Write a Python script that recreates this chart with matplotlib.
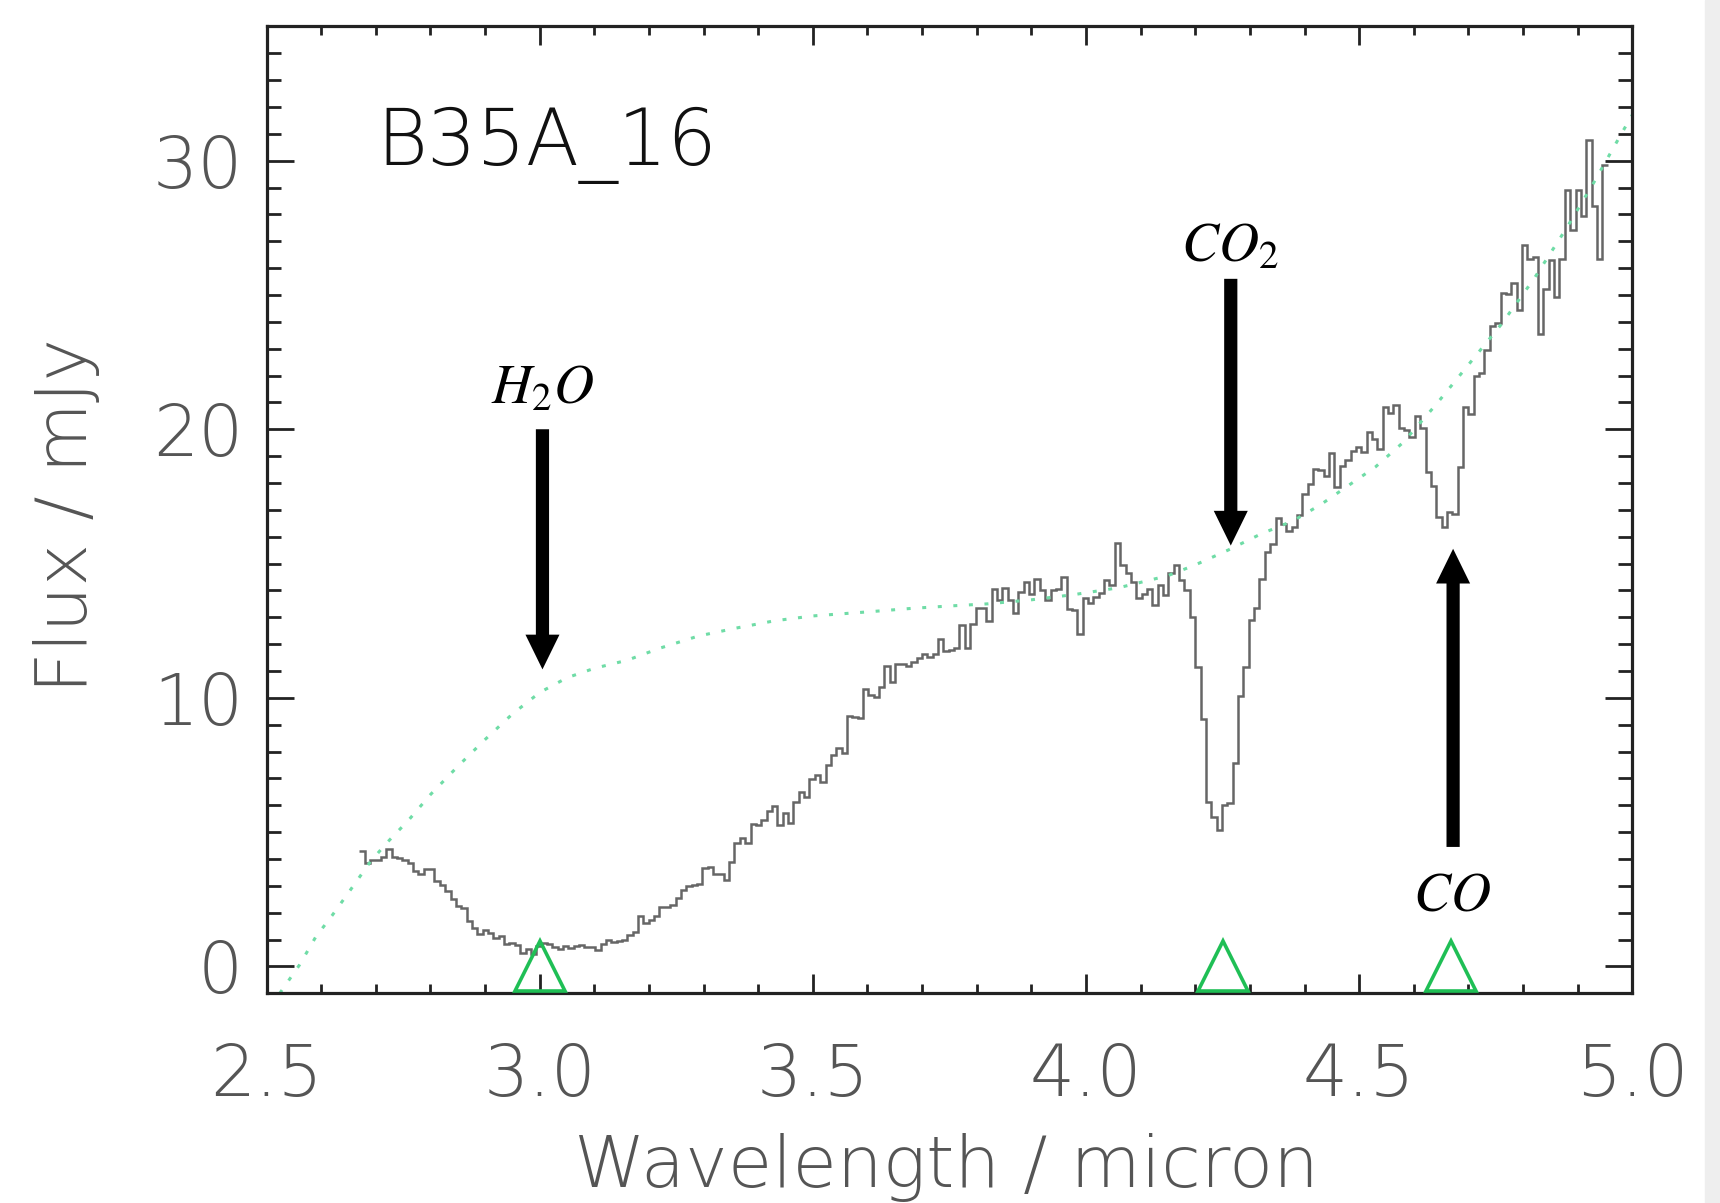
import numpy as np
import matplotlib
matplotlib.use("Agg")
import matplotlib.pyplot as plt
from matplotlib.ticker import MultipleLocator, FormatStrFormatter
from matplotlib.patches import Rectangle

plt.rcParams['mathtext.fontset'] = 'stix'

# spectrum: flux per wavelength bin (mJy), bins spread evenly over wave_lo..wave_hi
wave_lo, wave_hi = 2.67, 4.955
flux = [
    4.31, 3.84, 3.96, 3.98, 4.08, 4.37, 4.08, 4.05, 3.95, 3.85,
    3.55, 3.43, 3.64, 3.64, 3.20, 3.05, 2.80, 2.50, 2.24, 2.17,
    1.70, 1.43, 1.20, 1.37, 1.25, 1.05, 1.12, 0.85, 0.88, 0.79,
    0.50, 0.66, 0.47, 0.75, 0.88, 0.85, 0.72, 0.65, 0.76, 0.70,
    0.78, 0.79, 0.74, 0.72, 0.60, 0.82, 1.00, 0.92, 0.95, 1.00,
    1.16, 1.30,
    1.86, 1.61, 1.73, 1.88, 2.20, 2.20, 2.29, 2.54, 2.85, 3.00,
    3.03, 3.07, 3.65, 3.71, 3.46, 3.46, 3.21, 3.90, 4.60, 4.80,
    4.60, 5.30, 5.27, 5.45, 5.80, 5.97, 5.27, 5.72, 5.33, 6.14,
    6.51, 6.32, 6.97, 7.12, 6.87, 7.49, 7.86, 8.15, 7.95, 9.31,
    9.29, 9.25, 10.34, 10.10, 10.03, 10.40, 11.20, 10.60,
    11.27, 11.27, 11.20, 11.33, 11.50, 11.62, 11.53, 11.62, 12.20, 11.75,
    11.80, 11.84, 12.70, 11.84, 12.74, 13.36, 13.36, 12.87, 14.07, 13.66,
    14.10, 13.66, 13.16, 13.95, 14.32, 13.86, 14.44, 14.00, 13.63, 14.03,
    14.07, 14.50, 13.32, 13.26, 12.37, 13.70, 13.54, 13.76, 13.89, 14.38,
    14.20, 15.75, 14.94, 14.63, 14.32, 13.70, 13.86, 14.07, 13.45, 14.20,
    13.82, 14.63, 14.94, 14.38, 14.00, 13.00,
    11.16, 9.23, 6.13, 5.57, 5.07, 6.00, 6.07, 7.56, 10.07, 11.16,
    12.89, 13.36, 14.44, 15.43, 15.74, 16.71, 16.46, 16.21, 16.36, 16.80,
    17.60, 17.95, 18.53, 18.47, 18.25, 19.12, 17.85, 18.62, 18.84, 19.19,
    19.34, 19.16, 19.90, 19.65, 19.28, 20.81, 20.61, 20.90, 20.03, 19.99,
    19.72, 20.49, 20.03, 18.41, 17.87, 16.73, 16.36,
    16.93, 16.84, 18.60, 20.83, 20.58, 21.97, 22.10, 22.94, 23.83, 23.96,
    25.07, 25.05, 25.44, 24.45, 26.85, 26.35, 26.41, 23.55, 25.23, 26.31,
    24.92, 26.35, 28.89, 27.40, 28.92, 27.93, 30.78, 28.30, 26.35, 29.83,
]

# continuum (green dotted)
cont_wave = [2.524, 2.56, 2.59, 2.62, 2.65, 2.69, 2.72, 2.76, 2.80, 2.85,
             2.90, 2.95, 3.00, 3.05, 3.10, 3.16, 3.22, 3.29, 3.36, 3.43,
             3.50, 3.60, 3.68, 3.75, 3.82, 3.90, 3.98, 4.06, 4.12, 4.15,
             4.20, 4.26, 4.32, 4.38, 4.43, 4.48, 4.53, 4.58, 4.64, 4.70,
             4.76, 4.82, 4.88, 4.93, 4.98, 5.00]
cont_flux = [-1.0, 0.05, 1.1, 1.9, 2.75, 3.9, 4.6, 5.45, 6.4, 7.45,
             8.45, 9.4, 10.2, 10.75, 11.1, 11.4, 11.85, 12.3, 12.6, 12.87,
             13.05, 13.2, 13.33, 13.42, 13.5, 13.65, 13.85, 14.1, 14.4, 14.55,
             14.95, 15.5, 16.1, 16.6, 17.2, 17.9, 18.6, 19.5, 20.9, 22.4,
             23.9, 25.6, 27.5, 29.2, 31.0, 31.7]

# ice features: triangle markers and arrows
feat_wave = [3.0, 4.251, 4.669]
feat_labels = ['$H_2O$', '$CO_2$', '$CO$']
arrow_x = [3.005, 4.265, 4.672]
arrow_from = [20.0, 25.6, 4.45]
arrow_to = [11.06, 15.67, 15.55]
label_x = [3.006, 4.263, 4.669]
label_y = [20.95, 26.25, 2.1]

src_name = 'B35A_16'

fig = plt.figure(figsize=(17.2, 12.03), dpi=100)
ax = fig.add_axes([0.155, 0.1743, 0.794, 0.8038])

tick_font = dict(family='DejaVu Sans', weight='light')
gray = '#555555'

edges = np.linspace(wave_lo, wave_hi, len(flux) + 1)
ax.stairs(flux, edges, baseline=None, color='#666666', lw=1.8)

ax.plot(cont_wave, cont_flux, color='#6fdca6', lw=2.2, dashes=(1.3, 3.8))

ax.plot(feat_wave, [0] * len(feat_wave), ls='none', marker='^', ms=36,
        mfc='none', mec='#1fbf55', mew=2.6, clip_on=False, zorder=4)

for x, y0, y1 in zip(arrow_x, arrow_from, arrow_to):
    ax.annotate('', xy=(x, y1), xytext=(x, y0),
                arrowprops=dict(arrowstyle='simple,head_length=1.0,head_width=0.98,tail_width=0.38',
                                fc='black', ec='black', lw=0, shrinkA=0, shrinkB=0,
                                mutation_scale=25))
for x, y, s in zip(label_x, label_y, feat_labels):
    ax.text(x, y, s, ha='center', va='baseline', fontsize=40, color='black')

ax.text(2.701, 29.84, src_name, fontsize=56, color='#111111', ha='left',
        va='baseline', **tick_font)

ax.set_xlim(2.5, 5.0)
ax.set_ylim(-1, 35)
ax.xaxis.set_major_locator(MultipleLocator(0.5))
ax.xaxis.set_minor_locator(MultipleLocator(0.1))
ax.yaxis.set_major_locator(MultipleLocator(10))
ax.yaxis.set_minor_locator(MultipleLocator(1))
ax.xaxis.set_major_formatter(FormatStrFormatter('%.1f'))
ax.yaxis.set_major_formatter(FormatStrFormatter('%d'))

ax.tick_params(which='both', direction='in', top=True, right=True,
               color='#222222', width=2.0, labelcolor=gray, labelsize=51)
ax.tick_params(axis='x', which='major', length=13.7, pad=35)
ax.tick_params(axis='x', which='minor', length=6.7)
ax.tick_params(axis='y', which='major', length=19.4, pad=17)
ax.tick_params(axis='y', which='minor', length=10)
for lab in ax.get_xticklabels() + ax.get_yticklabels():
    lab.set_fontfamily('DejaVu Sans')
    lab.set_fontweight('light')

for sp in ax.spines.values():
    sp.set_linewidth(2.3)
    sp.set_color('#222222')

ax.set_xlabel('Wavelength / micron', fontsize=52, color=gray, va='center', **tick_font)
ax.xaxis.set_label_coords(0.4975, -0.1806)
ax.set_ylabel('Flux / mJy', fontsize=52, color=gray, va='center', **tick_font)
ax.yaxis.set_label_coords(-0.146, 0.4939)

# light gray strip along the right edge of the page
fig.patches.append(Rectangle((0.991, 0), 0.009, 1, transform=fig.transFigure,
                             color='#eeeeee', zorder=-1))

fig.savefig('out.png', dpi=100)
